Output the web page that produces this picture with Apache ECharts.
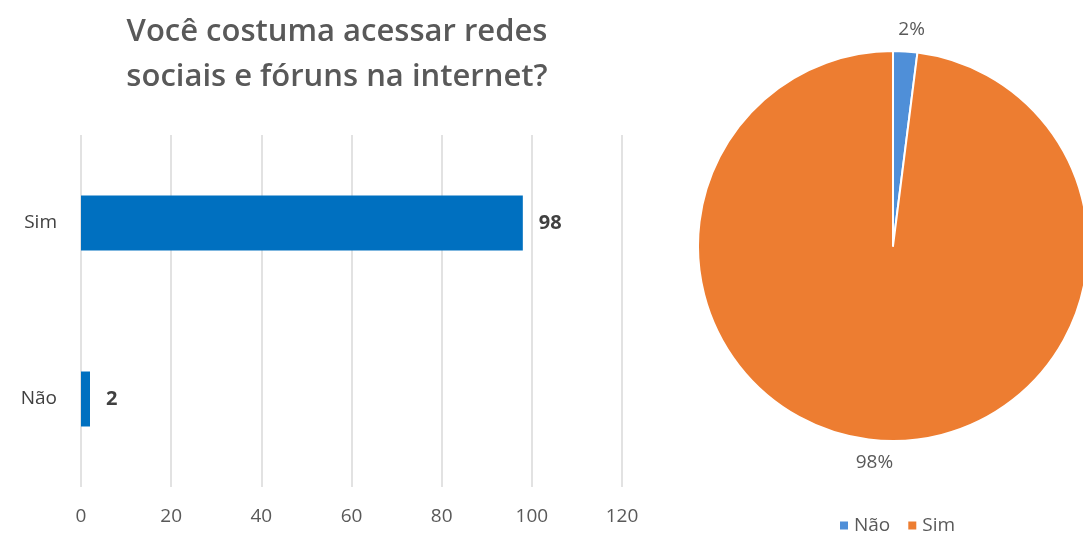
<!DOCTYPE html>
<html>
<head>
<meta charset="utf-8">
<style>
  html, body { margin: 0; padding: 0; background: #ffffff; }
  #chart { width: 1083px; height: 558px; }
</style>
<script src="https://cdn.jsdelivr.net/npm/echarts@6/dist/echarts.min.js"></script>
</head>
<body>
<div id="chart"></div>
<script>
// Survey answers: "Você costuma acessar redes sociais e fóruns na internet?"
const categories = ['Não', 'Sim'];
const counts = [2, 98];
const barTicks = [0, 20, 40, 60, 80, 100, 120];
const pieColors = ['#4f8fd8', '#ed7d31'];

const FONT = '"Open Sans", "DejaVu Sans", sans-serif';
const total = counts.reduce((a, b) => a + b, 0);

const chart = echarts.init(document.getElementById('chart'), null, { renderer: 'canvas' });

chart.setOption({
  backgroundColor: '#ffffff',
  animation: false,
  textStyle: { fontFamily: FONT },
  title: {
    text: 'Você costuma acessar redes\nsociais e fóruns na internet?',
    left: 332,
    top: 5,
    textAlign: 'center',
    textStyle: {
      fontFamily: FONT,
      fontSize: 31,
      fontWeight: 600,
      color: '#595959',
      lineHeight: 45
    }
  },
  legend: {
    data: categories,
    left: 833,
    bottom: 18,
    itemWidth: 10,
    itemHeight: 10,
    itemGap: 16,
    icon: 'rect',
    textStyle: { fontFamily: FONT, fontSize: 19, color: '#595959' }
  },
  grid: {
    left: 81,
    right: 461,
    top: 135,
    bottom: 71
  },
  xAxis: {
    type: 'value',
    min: barTicks[0],
    max: barTicks[barTicks.length - 1],
    interval: barTicks[1] - barTicks[0],
    axisLine: { show: false },
    axisTick: { show: false },
    splitLine: { show: true, lineStyle: { color: '#d9d9d9', width: 1.5 } },
    axisLabel: { fontFamily: FONT, fontSize: 19, color: '#595959', margin: 20 }
  },
  yAxis: {
    type: 'category',
    data: categories,
    axisLine: { show: false },
    axisTick: { show: false },
    axisLabel: { fontFamily: FONT, fontSize: 19, color: '#404040', margin: 24 }
  },
  series: [
    {
      name: 'Respostas',
      type: 'bar',
      data: counts,
      barWidth: 55,
      itemStyle: { color: '#0070c0' },
      label: {
        show: true,
        position: 'right',
        distance: 16,
        fontFamily: FONT,
        fontSize: 20,
        fontWeight: 'bold',
        color: '#404040'
      }
    },
    {
      name: 'Distribuição',
      type: 'pie',
      center: [893, 246],
      radius: 195,
      startAngle: 90,
      clockwise: true,
      data: categories.map((c, i) => ({
        name: c,
        value: counts[i],
        itemStyle: { color: pieColors[i] }
      })),
      itemStyle: { borderColor: '#ffffff', borderWidth: 2 },
      label: {
        show: true,
        position: 'outside',
        formatter: p => Math.round(p.value / total * 100) + '%',
        fontFamily: FONT,
        fontSize: 19,
        color: '#595959'
      },
      labelLine: { show: false, length: 22, length2: 0 },
      labelLayout: { align: 'center' }
    }
  ]
});
</script>
</body>
</html>
